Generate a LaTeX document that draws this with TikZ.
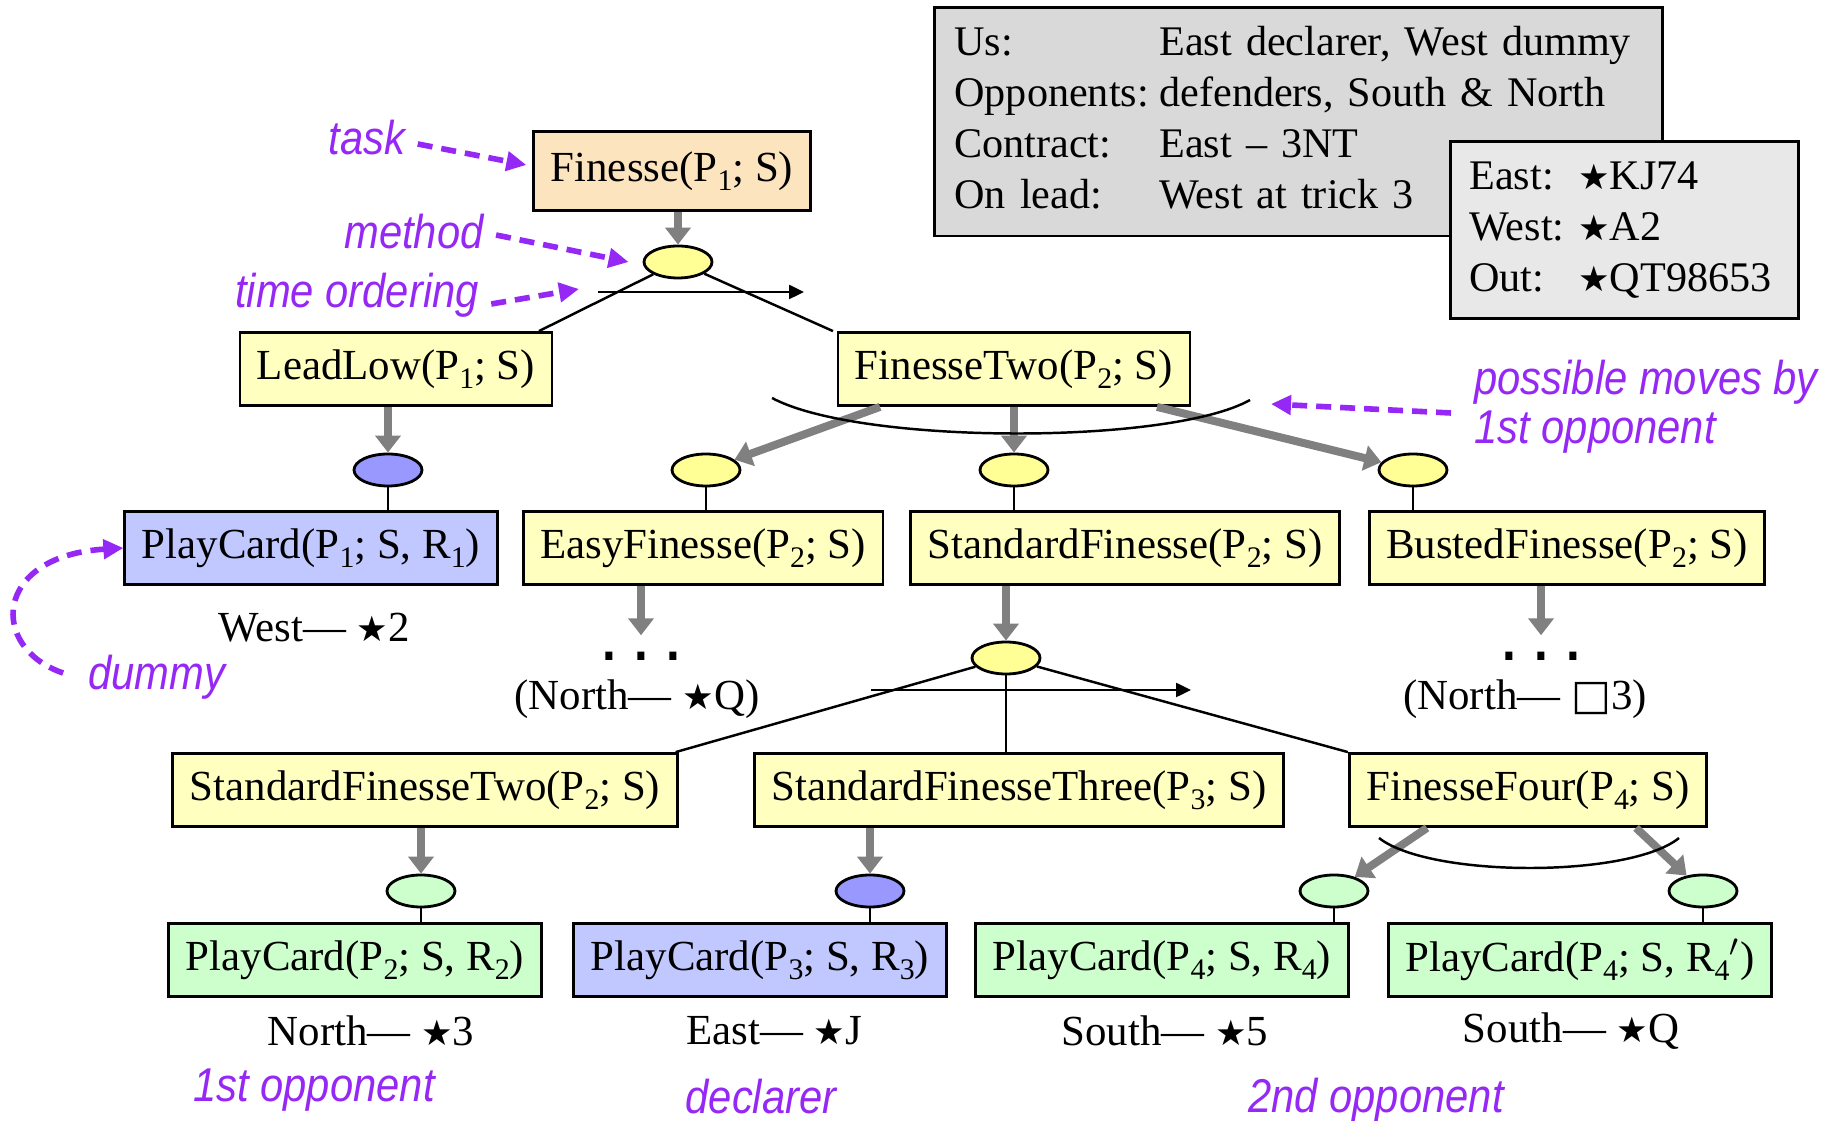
\documentclass[tikz,border=0pt]{standalone}
\usepackage{fontspec}
\setmainfont{Liberation Serif}
\newfontfamily\notefont{Liberation Sans}[FakeStretch=0.88]
\newfontfamily\symfont{DejaVu Sans}
\usetikzlibrary{arrows.meta,shapes.geometric}

\definecolor{peach}{RGB}{252,228,190}
\definecolor{paleyellow}{RGB}{255,255,192}
\definecolor{methyellow}{RGB}{255,255,150}
\definecolor{paleblue}{RGB}{192,200,255}
\definecolor{methblue}{RGB}{152,152,255}
\definecolor{palegreen}{RGB}{204,255,204}
\definecolor{notepurple}{RGB}{150,40,245}

\newcommand{\spadesym}{{\symfont\fontsize{10}{10}\selectfont ★}}
\newcommand{\clubsym}{{\symfont\fontsize{12}{12}\selectfont □}}
\newcommand{\sub}[1]{\raisebox{-2.6pt}{\fontsize{8.5}{8.5}\selectfont #1}}

\tikzset{
	taskbox/.style={draw, line width=0.8pt, minimum height=0.73cm, inner xsep=0.17cm, font=\fontsize{12.2}{14}\selectfont},
	methnode/.style={draw, ellipse, line width=0.8pt, minimum width=0.68cm, minimum height=0.32cm, inner sep=0pt},
	decomp/.style={draw=gray, line width=0.08cm, -{Triangle[length=0.17cm,width=0.25cm]}},
	link/.style={line width=0.7pt},
	orderarrow/.style={line width=0.7pt, -{Triangle[length=0.15cm,width=0.14cm]}},
	cardlbl/.style={font=\fontsize{12.2}{14}\selectfont},
	dotsnode/.style={anchor=base, inner sep=0pt, text height=0.09cm, text depth=0pt, font=\notefont\bfseries\fontsize{16}{16}\selectfont},
	notelbl/.style={text=notepurple, font=\notefont\itshape\fontsize{13.5}{14}\selectfont},
	notearrow/.style={draw=notepurple, line width=1.6pt, dash pattern=on 0.15cm off 0.09cm, -{Triangle[length=0.2cm,width=0.19cm]}},
	infobox/.style={draw, line width=0.8pt, anchor=north west, align=left, font=\fontsize{12}{14.6}\selectfont}
}

\begin{document}
\begin{tikzpicture}
	\useasboundingbox (0,0) rectangle (18.45,-11.21);

	% the deal
	\node [infobox, fill=gray!30, text width=6.88cm, inner xsep=0.2cm, minimum height=2.27cm] (deal) at (9.33,-0.06) {\begin{tabular}{@{}l@{\hspace{3pt}}l@{}}
		Us: & East declarer, West dummy\\
		Opponents: & defenders, South \& North\\
		Contract: & East -- 3NT\\
		On lead: & West at trick 3
	\end{tabular}};
	\node [infobox, fill=gray!18, text width=3.1cm, inner xsep=0.19cm, minimum height=1.75cm] (hands) at (14.49,-1.40) {\begin{tabular}{@{}l@{\hspace{4pt}}l@{}}
		East: & \spadesym KJ74\\
		West: & \spadesym A2\\
		Out: & \spadesym QT98653
	\end{tabular}};

	% top task and its method
	\node [taskbox, fill=peach, minimum height=0.79cm] (fin) at (6.72,-1.71) {Finesse(P\sub{1}; S)};
	\node [methnode, fill=methyellow] (m0) at (6.78,-2.62) {};
	\node [taskbox, fill=paleyellow] (lead) at (3.96,-3.69) {LeadLow(P\sub{1}; S)};
	\node [taskbox, fill=paleyellow] (ftwo) at (10.14,-3.69) {FinesseTwo(P\sub{2}; S)};
	\draw [decomp] (fin.south -| m0) -- (m0);
	\draw [link] (m0) -- ([xshift=1.43cm]lead.north);
	\draw [link] (m0) -- ([xshift=-1.81cm]ftwo.north);
	\coordinate (ord1) at ([shift={(-0.80,-0.30)}]m0.center);
	\coordinate (ord1b) at ([xshift=2.06cm]ord1);
	\draw [orderarrow] (ord1) -- (ord1b);

	% second level
	\node [methnode, fill=methblue] (m1) at (3.88,-4.70) {};
	\node [methnode, fill=methyellow] (m2) at (7.06,-4.70) {};
	\node [methnode, fill=methyellow] (m3) at (10.14,-4.70) {};
	\node [methnode, fill=methyellow] (m4) at (14.13,-4.70) {};
	\node [taskbox, fill=paleblue] (pc1) at (3.11,-5.48) {PlayCard(P\sub{1}; S, R\sub{1})};
	\node [taskbox, fill=paleyellow] (easy) at (7.03,-5.48) {EasyFinesse(P\sub{2}; S)};
	\node [taskbox, fill=paleyellow] (std) at (11.25,-5.48) {StandardFinesse(P\sub{2}; S)};
	\node [taskbox, fill=paleyellow] (busted) at (15.67,-5.48) {BustedFinesse(P\sub{2}; S)};
	\draw [decomp] (lead.south -| m1) -- (m1);
	\draw [decomp] ([xshift=-1.34cm]ftwo.south) -- (m2);
	\draw [decomp] (ftwo.south -| m3) -- (m3);
	\draw [decomp] ([xshift=1.43cm]ftwo.south) -- (m4);
	\draw [link] (7.72,-3.98) .. controls (8.6,-4.45) and (11.7,-4.45) .. (12.50,-4.00) coordinate (arc1e);
	\foreach \m/\t in {m1/pc1, m2/easy, m3/std, m4/busted}
		\draw [link] (\m) -- (\m |- \t.north);

	\node [cardlbl] (westlbl) at (3.14,-6.28) {West— \spadesym2};
	\node [dotsnode] (dots1) at (6.41,-6.61) {. . .};
	\node [cardlbl] (northq) at (6.37,-6.99) {(North— \spadesym Q)};
	\draw [decomp, shorten >=0.16cm] (easy.south -| dots1) -- (dots1.north);
	\node [dotsnode] (dots2) at (15.41,-6.61) {. . .};
	\node [cardlbl] (north3) at (15.25,-6.99) {(North— \clubsym3)};
	\draw [decomp, shorten >=0.16cm] (busted.south -| dots2) -- (dots2.north);

	% standard finesse
	\node [methnode, fill=methyellow] (m5) at (10.06,-6.58) {};
	\draw [decomp] (std.south -| m5) -- (m5);
	\node [taskbox, fill=paleyellow] (sftwo) at (4.25,-7.90) {StandardFinesseTwo(P\sub{2}; S)};
	\node [taskbox, fill=paleyellow] (sfthree) at (10.19,-7.90) {StandardFinesseThree(P\sub{3}; S)};
	\node [taskbox, fill=paleyellow] (ffour) at (15.28,-7.90) {FinesseFour(P\sub{4}; S)};
	\draw [link] (m5) -- ([xshift=-0.03cm]sftwo.north east);
	\draw [link] (m5) -- (m5 |- sfthree.north);
	\draw [link] (m5) -- (ffour.north west);
	\coordinate (ord2) at ([shift={(-1.35,-0.32)}]m5.center);
	\coordinate (ord2b) at ([xshift=3.20cm]ord2);
	\draw [orderarrow] (ord2) -- (ord2b);

	% card plays
	\node [methnode, fill=palegreen] (m6) at (4.21,-8.91) {};
	\node [methnode, fill=methblue] (m7) at (8.70,-8.91) {};
	\node [methnode, fill=palegreen] (m8) at (13.34,-8.91) {};
	\node [methnode, fill=palegreen] (m9) at (17.03,-8.91) {};
	\node [taskbox, fill=palegreen] (pc2) at (3.55,-9.60) {PlayCard(P\sub{2}; S, R\sub{2})};
	\node [taskbox, fill=paleblue] (pc3) at (7.60,-9.60) {PlayCard(P\sub{3}; S, R\sub{3})};
	\node [taskbox, fill=palegreen] (pc4) at (11.62,-9.60) {PlayCard(P\sub{4}; S, R\sub{4})};
	\node [taskbox, fill=palegreen] (pc4b) at (15.80,-9.60) {PlayCard(P\sub{4}; S, R\sub{4}\textsuperscript{$\prime$})};
	\draw [decomp] (sftwo.south -| m6) -- (m6);
	\draw [decomp] (sfthree.south -| m7) -- (m7);
	\draw [decomp] ([xshift=-1.01cm]ffour.south) -- (m8);
	\draw [decomp] ([xshift=1.08cm]ffour.south) -- (m9);
	\draw [link] (13.79,-8.38) .. controls (14.3,-8.78) and (16.3,-8.78) .. (16.79,-8.38);
	\foreach \m/\t in {m6/pc2, m7/pc3, m8/pc4, m9/pc4b}
		\draw [link] (\m) -- (\m |- \t.north);

	\node [cardlbl] (play2) at (3.71,-10.31) {North— \spadesym3};
	\node [cardlbl] (play3) at (7.74,-10.31) {East— \spadesym J};
	\node [cardlbl] (play4) at (11.65,-10.31) {South— \spadesym5};
	\node [cardlbl] (play4b) at (15.71,-10.31) {South— \spadesym Q};

	% annotations
	\node [notelbl] (tasklbl) at (3.67,-1.38) {task};
	\node [notelbl] (methlbl) at (4.14,-2.32) {method};
	\node [notelbl] (ordlbl) at (3.57,-2.95) {time ordering};
	\node [notelbl] (dummylbl) at (1.57,-6.77) {dummy};
	\node [notelbl, anchor=west, align=left] (movelbl) at (14.62,-4.07) {possible moves by\\1st opponent};
	\node [notelbl] (opp1lbl) at (3.14,-10.90) {1st opponent};
	\node [notelbl] (decllbl) at (7.61,-10.97) {declarer};
	\node [notelbl] (opp2lbl) at (13.76,-11.00) {2nd opponent};
	\draw [notearrow] ([yshift=-0.06cm]tasklbl.east) -- ([xshift=-0.06cm,yshift=0.06cm]fin.west);
	\draw [notearrow] ([yshift=-0.03cm]methlbl.east) -- ([xshift=-0.14cm]m0.west);
	\draw [notearrow] ([yshift=-0.09cm]ordlbl.east) -- ([xshift=-0.19cm,yshift=0.03cm]ord1);
	\draw [notearrow] ([xshift=-0.11cm,yshift=-0.06cm]movelbl.west) -- ([xshift=0.21cm,yshift=-0.04cm]arc1e);
	\draw [notearrow] ([xshift=-0.13cm,yshift=0.04cm]dummylbl.west) .. controls +(-0.74,0.25) and +(-1.31,-0.08) .. (pc1.west);
\end{tikzpicture}
\end{document}
